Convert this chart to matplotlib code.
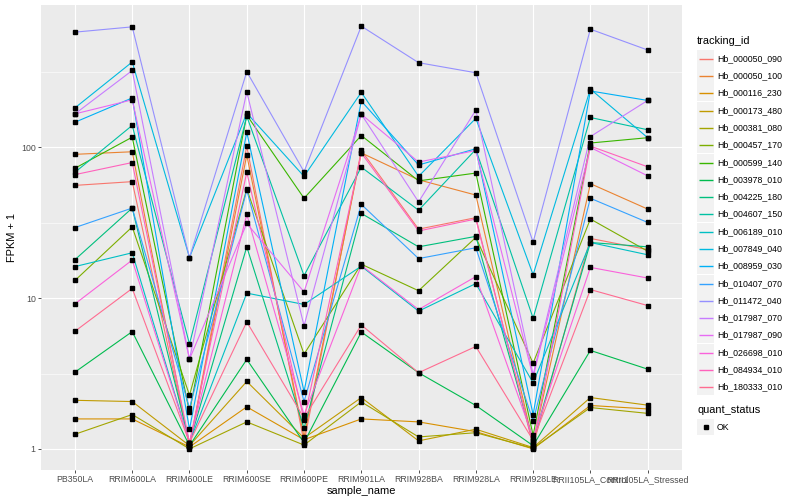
import numpy as np
import matplotlib
matplotlib.use("Agg")
import matplotlib.pyplot as plt
from matplotlib.patches import Rectangle

plt.rcParams['font.family'] = ['Liberation Sans', 'DejaVu Sans']

samples = ["PB350LA", "RRIM600LA", "RRIM600LE", "RRIM600SE", "RRIM600PE",
           "RRIM901LA", "RRIM928BA", "RRIM928LA", "RRIM928LE",
           "RRII105LA_Control", "RRII105LA_Stressed"]

tracking_ids = ["Hb_000050_090", "Hb_000050_100", "Hb_000116_230", "Hb_000173_480",
                "Hb_000381_080", "Hb_000457_170", "Hb_000599_140", "Hb_003978_010",
                "Hb_004225_180", "Hb_004607_150", "Hb_006189_010", "Hb_007849_040",
                "Hb_008959_030", "Hb_010407_070", "Hb_011472_040", "Hb_017987_070",
                "Hb_017987_090", "Hb_026698_010", "Hb_084934_010", "Hb_180333_010"]

# FPKM + 1, une ligne par tracking_id, dans l'ordre des samples
fpkm = [
    [56, 59.3, 1.05, 102, 1.1, 95.5, 28.7, 34.2, 1.05, 24.9, 21],
    [90, 93.6, 1.04, 89, 1.2, 92, 61, 48.3, 1.1, 57.5, 39],
    [1.58, 1.58, 1.03, 1.9, 1.15, 1.58, 1.51, 1.3, 1.0, 1.94, 1.84],
    [2.1, 2.06, 1.05, 2.8, 1.18, 2.19, 1.13, 1.35, 1.02, 2.19, 1.95],
    [1.25, 1.69, 1.0, 1.51, 1.06, 2.05, 1.2, 1.28, 1.01, 1.88, 1.72],
    [13.1, 29.7, 2.27, 53, 4.25, 16.8, 11.2, 25.3, 3.7, 33.5, 20.5],
    [72.8, 117, 1.76, 164, 46, 120, 60, 67.6, 1.23, 107, 116],
    [3.23, 6.0, 1.05, 3.92, 1.1, 5.96, 3.2, 1.94, 1.05, 4.5, 3.38],
    [18, 39.6, 1.1, 21.9, 1.37, 36.5, 21.9, 25.7, 1.12, 23.4, 21.9],
    [68.4, 140, 4.96, 161, 14.1, 74, 38.3, 97, 7.36, 158, 131],
    [16.2, 20, 1.1, 10.8, 9.08, 16.3, 8.2, 12.5, 2.74, 23.4, 19.4],
    [183, 369, 18.6, 169, 64.3, 232, 64.3, 156, 14.3, 244, 116],
    [147, 213, 1.35, 126, 2.4, 203, 76.5, 98, 1.69, 237, 205],
    [29.4, 39.6, 1.86, 52, 2.06, 41.9, 18.3, 21.6, 1.53, 46, 31.8],
    [582, 631, 18.6, 318, 69, 638, 365, 313, 23.5, 609, 443],
    [167, 324, 3.94, 234, 6.56, 166, 43.5, 177, 3.1, 118, 205],
    [167, 207, 3.94, 31.3, 11, 166, 80, 95.5, 3.0, 100, 64.8],
    [9.16, 17.9, 1.1, 35.9, 1.68, 16.5, 8.4, 13.9, 1.18, 16, 13.6],
    [66, 79.4, 1.1, 68.5, 1.56, 92, 27.9, 33.5, 1.08, 102, 74.4],
    [6.03, 11.6, 1.1, 6.96, 1.6, 6.64, 3.2, 4.78, 1.14, 11.4, 8.93],
]

# palette hue de ggplot pour 20 niveaux
couleurs = ["#F8766D", "#EA8331", "#D89000", "#C09B00", "#A3A500", "#7CAE00",
            "#39B600", "#00BB4E", "#00BF7D", "#00C1A3", "#00BFC4", "#00BAE0",
            "#00B0F6", "#35A2FF", "#9590FF", "#C77CFF", "#E76BF3", "#FA62DB",
            "#FF62BC", "#FF6C91"]

W, H = 800, 500
fig = plt.figure(figsize=(W / 100, H / 100), dpi=100)
fig.patch.set_facecolor("white")

# zone du panneau en pixels
gauche, droite, haut, bas = 40.6, 682, 5, 470
ax = fig.add_axes([gauche / W, (H - bas) / H, (droite - gauche) / W, (bas - haut) / H])
ax.set_facecolor("#EBEBEB")

xs = np.arange(len(samples))
for vals, cor in zip(fpkm, couleurs):
    ax.plot(xs, vals, color=cor, lw=0.8, zorder=3, solid_capstyle="butt")
for vals in fpkm:
    ax.plot(xs, vals, ls="none", marker="s", ms=2.6, color="black", zorder=4)

ax.set_yscale("log")
todos = np.array(fpkm, dtype=float)
lmin, lmax = np.log10(todos.min()), np.log10(todos.max())
pad = 0.05 * (lmax - lmin)
ax.set_ylim(10 ** (lmin - pad), 10 ** (lmax + pad))
ax.set_xlim(-0.6, len(samples) - 0.4)

ax.set_yticks([1, 10, 100])
ax.set_yticklabels(["1", "10", "100"])
ax.set_yticks([10 ** 0.5, 10 ** 1.5, 10 ** 2.5], minor=True)
ax.yaxis.set_minor_formatter(plt.NullFormatter())
ax.set_xticks(xs)
ax.set_xticklabels(samples)

ax.grid(True, which="major", color="white", lw=0.8, zorder=1)
ax.grid(True, which="minor", axis="y", color="white", lw=0.4, zorder=1)
ax.set_axisbelow(True)
for s in ax.spines.values():
    s.set_visible(False)
ax.tick_params(axis="both", which="major", length=2, width=0.6, color="#333333",
               labelsize=6.3, labelcolor="#4D4D4D", pad=1.5)
ax.tick_params(axis="y", which="minor", length=0)

ax.set_xlabel("sample_name", fontsize=7.9, labelpad=1.5)
ax.set_ylabel("FPKM + 1", fontsize=7.9, labelpad=3)

# legendes a la ggplot
lg = fig.add_axes([690 / W, 0, 110 / W, 1])
lg.set_xlim(690, 800)
lg.set_ylim(H, 0)
lg.axis("off")

lg.text(697, 40.7, "tracking_id", fontsize=7.9, va="center", ha="left")
y0, passo = 57.7, 17.3
for i, (nome, cor) in enumerate(zip(tracking_ids, couleurs)):
    yc = round(y0 + i * passo) + 0.5
    lg.add_patch(Rectangle((697, yc - passo / 2 + 0.4), 17, passo - 0.8,
                           facecolor="#F2F2F2", edgecolor="none"))
    lg.plot([698.5, 712.5], [yc, yc], color=cor, lw=1.0, solid_capstyle="butt")
    lg.text(717, yc, nome, fontsize=6.3, va="center", ha="left")

lg.text(697, 410, "quant_status", fontsize=7.9, va="center", ha="left")
lg.add_patch(Rectangle((697, 427 - 8.2), 17, 16.4, facecolor="#F2F2F2", edgecolor="none"))
lg.plot([705.5], [427], ls="none", marker="s", ms=2.6, color="black")
lg.text(717, 427, "OK", fontsize=6.3, va="center", ha="left")

fig.savefig("out.png", dpi=100)
